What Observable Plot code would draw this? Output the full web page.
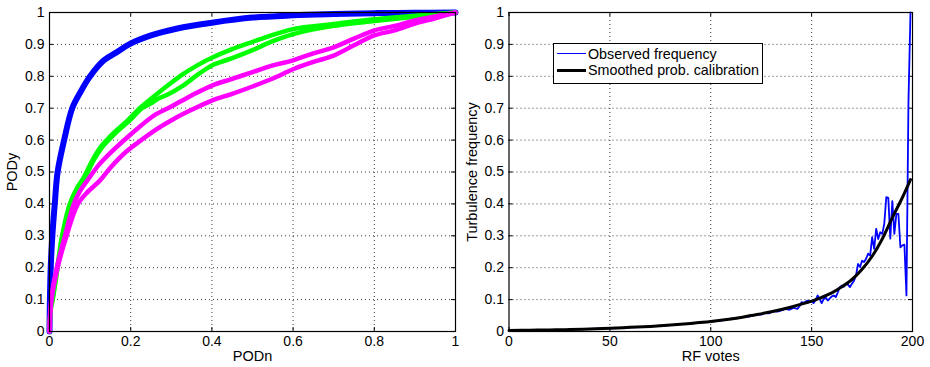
<!DOCTYPE html>
<html>
<head>
<meta charset="utf-8">
<script src="https://cdn.jsdelivr.net/npm/d3@7"></script>
<script src="https://cdn.jsdelivr.net/npm/@observablehq/plot@0.6"></script>
<style>
  body { margin: 0; background: #fff; }
  #wrap { position: relative; width: 930px; height: 367px; font-family: "Liberation Sans", Arial, sans-serif; }
  #left, #right { position: absolute; top: 0; }
  #left { left: 0; }
  #right { left: 465px; }
  #legend { position: absolute; left: 553px; top: 43px; width: 210px; height: 41px; border: 1px solid #000; background: #fff; box-sizing: border-box; font-size: 14.3px; }
  .lrow { position: absolute; left: 0; height: 16px; width: 100%; }
  .lline { position: absolute; left: 3px; width: 29px; top: 7px; }
  .ltext { position: absolute; left: 34px; top: -1px; white-space: nowrap; line-height: 16px; }
</style>
</head>
<body>
<div id="wrap">
  <div id="left"></div>
  <div id="right"></div>
  <div id="legend"></div>
</div>
<script>
// ---------- Left panel: ROC curves (PODn, PODy) ----------
const podnTicks = [0, 0.2, 0.4, 0.6, 0.8, 1];
const probTicks = [0, 0.1, 0.2, 0.3, 0.4, 0.5, 0.6, 0.7, 0.8, 0.9, 1];

const rocBlue = [[0,0],[0.001,0.1],[0.003,0.2],[0.007,0.3],[0.013,0.4],[0.02,0.5],[0.036,0.6],[0.056,0.7],[0.076,0.75],[0.1,0.8],[0.134,0.85],[0.165,0.875],[0.196,0.9],[0.25,0.928],[0.315,0.95],[0.4,0.968],[0.5,0.984],[0.6,0.991],[0.7,0.995],[0.8,0.998],[0.9,0.999],[1,1]];

const rocGreenA = [[0,0],[0.003,0.07],[0.007,0.1],[0.019,0.2],[0.031,0.3],[0.05,0.4],[0.068,0.45],[0.085,0.484],[0.105,0.535],[0.126,0.578],[0.16,0.625],[0.192,0.661],[0.225,0.703],[0.26,0.74],[0.295,0.775],[0.328,0.806],[0.365,0.835],[0.4,0.858],[0.45,0.885],[0.5,0.908],[0.55,0.93],[0.6,0.948],[0.65,0.957],[0.7,0.964],[0.8,0.979],[0.9,0.99],[1,1]];
const rocGreenB = [[0,0],[0.003,0.07],[0.008,0.1],[0.02,0.2],[0.033,0.3],[0.053,0.4],[0.07,0.45],[0.088,0.484],[0.108,0.535],[0.13,0.578],[0.165,0.625],[0.197,0.661],[0.228,0.7],[0.25,0.715],[0.266,0.729],[0.29,0.742],[0.328,0.77],[0.365,0.805],[0.4,0.834],[0.45,0.857],[0.5,0.882],[0.55,0.91],[0.6,0.932],[0.65,0.947],[0.7,0.958],[0.8,0.973],[0.9,0.987],[1,1]];

const rocMagentaA = [[0,0],[0.004,0.1],[0.018,0.2],[0.038,0.3],[0.06,0.4],[0.075,0.44],[0.093,0.473],[0.12,0.52],[0.15,0.56],[0.192,0.609],[0.225,0.645],[0.257,0.677],[0.3,0.705],[0.35,0.74],[0.4,0.771],[0.45,0.792],[0.5,0.813],[0.55,0.834],[0.6,0.85],[0.65,0.872],[0.7,0.891],[0.75,0.918],[0.8,0.944],[0.85,0.958],[0.9,0.975],[1,1]];
const rocMagentaB = [[0,0],[0.005,0.1],[0.02,0.2],[0.042,0.3],[0.07,0.4],[0.096,0.44],[0.124,0.473],[0.151,0.515],[0.19,0.565],[0.225,0.599],[0.265,0.635],[0.307,0.667],[0.35,0.695],[0.4,0.724],[0.45,0.745],[0.5,0.768],[0.55,0.793],[0.6,0.822],[0.65,0.845],[0.7,0.865],[0.75,0.897],[0.8,0.928],[0.85,0.944],[0.9,0.965],[0.95,0.982],[1,1]];

// ---------- Right panel: calibration ----------
const voteTicks = [0, 50, 100, 150, 200];

const smoothVotes = [0,10,20,30,40,50,60,70,80,90,100,110,115,120,130,140,150,155,160,165,170,175,180,185,190,195,199];
const smoothFreq  = [0.003,0.004,0.005,0.006,0.008,0.010,0.013,0.016,0.020,0.025,0.031,0.039,0.044,0.050,0.062,0.077,0.095,0.107,0.121,0.140,0.163,0.195,0.236,0.290,0.357,0.420,0.476];

const obsVotes = [0,5,10,15,20,25,30,35,40,45,50,55,60,65,70,75,80,85,90,95,100,105,110,113,116,119,122,125,127,129,131,133,135,137,139,141,143,144,145,146,148,150,151,152,153,154,155,156,157,158,159,160,161,162,163,164,165,166,167,168,169,170,171,172,173,174,175,176,177,178,179,180,181,182,183,184,185,186,187,188,189,190,191,192,193,194,195,196,197,198,199];
const obsFreq  = [0.002,0.003,0.004,0.004,0.005,0.005,0.006,0.007,0.008,0.009,0.010,0.011,0.013,0.014,0.016,0.018,0.020,0.023,0.025,0.028,0.031,0.034,0.040,0.041,0.046,0.047,0.052,0.053,0.058,0.057,0.064,0.062,0.066,0.071,0.068,0.074,0.071,0.079,0.092,0.090,0.097,0.094,0.089,0.099,0.113,0.101,0.089,0.102,0.107,0.097,0.104,0.110,0.113,0.108,0.123,0.139,0.144,0.140,0.149,0.147,0.139,0.150,0.159,0.176,0.212,0.202,0.222,0.218,0.228,0.244,0.238,0.296,0.259,0.322,0.290,0.311,0.306,0.337,0.421,0.419,0.291,0.409,0.306,0.369,0.369,0.264,0.270,0.272,0.113,0.720,1.000];

const legendNames = ["Observed frequency", "Smoothed prob. calibration"];
const legendColors = ["#0000ff", "#000000"];
const legendWidths = [1.8, 3];

// ---------- layout ----------
const H = 367, MT = 12, MB = 36;
const font = { fontFamily: "'Liberation Sans', Arial, sans-serif", fontSize: "14px", color: "#000", background: "#fff", overflow: "visible" };
const gridStyle = { stroke: "#000", strokeOpacity: 0.85, strokeWidth: 0.9, strokeDasharray: "1,3" };

function frameMarks(xTicks, yTicks, pw, ph) {
  return [
    Plot.gridX(xTicks.slice(1, -1), gridStyle),
    Plot.gridY(yTicks.slice(1, -1), gridStyle),
    Plot.tickY(yTicks, { stroke: "#000", insetRight: pw - 4 }),
    Plot.tickY(yTicks, { stroke: "#000", insetLeft: pw - 4 }),
    Plot.tickX(xTicks, { stroke: "#000", insetTop: ph - 4 }),
    Plot.tickX(xTicks, { stroke: "#000", insetBottom: ph - 4 })
  ];
}

// Left
const LW = 465, LML = 49, LMR = 10;
const rocStyle = { strokeWidth: 4.5, curve: "catmull-rom" };
const left = Plot.plot({
  width: LW, height: H, marginLeft: LML, marginRight: LMR, marginTop: MT, marginBottom: MB,
  style: font,
  x: { domain: [0, 1] },
  y: { domain: [0, 1] },
  marks: [
    ...frameMarks(podnTicks, probTicks, LW - LML - LMR, H - MT - MB),
    Plot.line(rocBlue, { ...rocStyle, stroke: "#0000ff", strokeWidth: 6 }),
    Plot.line(rocGreenA, { ...rocStyle, stroke: "#00ff00" }),
    Plot.line(rocGreenB, { ...rocStyle, stroke: "#00ff00" }),
    Plot.line(rocMagentaA, { ...rocStyle, stroke: "#ff00ff" }),
    Plot.line(rocMagentaB, { ...rocStyle, stroke: "#ff00ff" }),
    Plot.frame({ stroke: "#000", strokeWidth: 1.2 }),
    Plot.axisX(podnTicks, { tickSize: 0, tickPadding: 5, tickFormat: d => String(d), label: null, fontSize: 14 }),
    Plot.axisY(probTicks, { tickSize: 0, tickPadding: 5, tickFormat: d => String(d), label: null, fontSize: 14 }),
    Plot.text(["PODn"], { frameAnchor: "bottom", lineAnchor: "top", dy: 19, fontSize: 14.5 }),
    Plot.text(["PODy"], { frameAnchor: "left", textAnchor: "middle", rotate: -90, dx: -37, fontSize: 14.5 })
  ]
});
document.getElementById("left").appendChild(left);

// Right
const RW = 465, RML = 43.5, RMR = 18;
const right = Plot.plot({
  width: RW, height: H, marginLeft: RML, marginRight: RMR, marginTop: MT, marginBottom: MB,
  style: font,
  x: { domain: [0, 200] },
  y: { domain: [0, 1] },
  marks: [
    ...frameMarks(voteTicks, probTicks, RW - RML - RMR, H - MT - MB),
    Plot.line(obsVotes, { x: obsVotes, y: obsFreq, stroke: legendColors[0], strokeWidth: legendWidths[0] }),
    Plot.line(smoothVotes, { x: smoothVotes, y: smoothFreq, stroke: legendColors[1], strokeWidth: legendWidths[1], curve: "catmull-rom" }),
    Plot.frame({ stroke: "#000", strokeWidth: 1.2 }),
    Plot.axisX(voteTicks, { tickSize: 0, tickPadding: 5, tickFormat: d => String(d), label: null, fontSize: 14 }),
    Plot.axisY(probTicks, { tickSize: 0, tickPadding: 5, tickFormat: d => String(d), label: null, fontSize: 14 }),
    Plot.text(["RF votes"], { frameAnchor: "bottom", lineAnchor: "top", dy: 19, fontSize: 14.5 }),
    Plot.text(["Turbulence frequency"], { frameAnchor: "left", textAnchor: "middle", rotate: -90, dx: -36.5, fontSize: 14.5 })
  ]
});
document.getElementById("right").appendChild(right);

// Legend
const leg = d3.select("#legend");
legendNames.forEach((name, i) => {
  const row = leg.append("div").attr("class", "lrow").style("top", (3 + i * 16) + "px");
  row.append("div").attr("class", "lline")
    .style("border-top", legendWidths[i] + "px solid " + legendColors[i])
    .style("margin-top", (-legendWidths[i] / 2) + "px");
  row.append("div").attr("class", "ltext").text(name);
});
</script>
</body>
</html>
